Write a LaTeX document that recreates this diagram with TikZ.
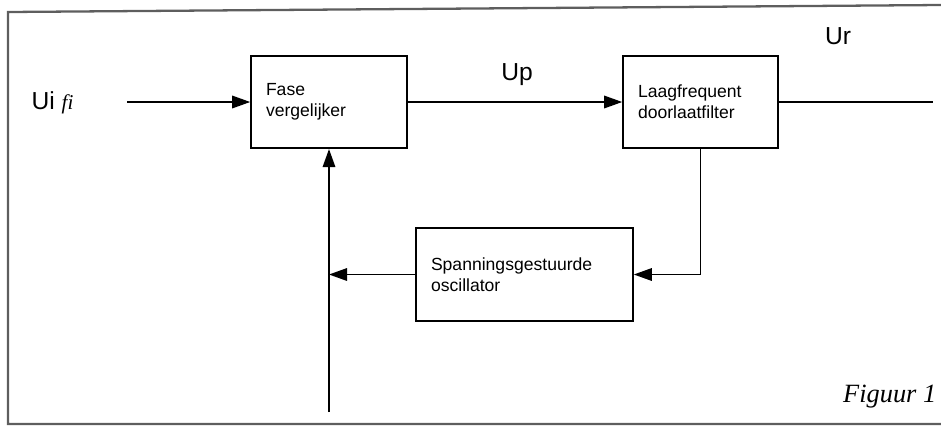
\documentclass[tikz,border=0pt]{standalone}
\usepackage{fontspec}
\setmainfont{Liberation Sans}
\newfontfamily\seriffont{Liberation Serif}
\usetikzlibrary{positioning,arrows.meta}
\definecolor{FrameGray}{HTML}{5E5E5E}

\begin{document}
\begin{tikzpicture}[line width=0.9pt,
  every node/.style={font=\fontsize{10}{12}\selectfont,align=left},
  blok/.style={draw,inner xsep=0.3cm,minimum height=1.85cm},
  pijl/.style={-{Triangle[length=3.6mm,width=2.5mm]}},
  groot/.style={font=\fontsize{14}{16}\selectfont}]
  \useasboundingbox (0,0) rectangle (18.82,-8.54);
  \draw[FrameGray,line width=1.3pt] (18.82,-0.1) -- (0.16,-0.24) -- (0.16,-8.48) -- (18.82,-8.48);
  \node[blok,text width=2.52cm] (fase) at (6.58,-2.04) {Fase\\vergelijker};
  \node[blok,text width=2.5cm] (filter) at (14.01,-2.04) {Laagfrequent\\doorlaatfilter};
  \node[blok,text width=3.74cm] (vco) at (10.49,-5.49) {Spanningsgestuurde\\oscillator};
  \coordinate (in) at (2.54,-2.04);
  \coordinate (uit) at (18.66,-2.04);
  \coordinate (voet) at (6.58,-8.24);
  \node[groot,anchor=west] (ui) at (0.5,-2.06) {Ui {\seriffont\itshape\fontsize{12}{12}\selectfont fi}};
  \node[groot] (up) at (10.34,-1.5) {Up};
  \node[groot] (ur) at (16.76,-0.72) {Ur};
  \node[anchor=base east,inner xsep=0pt,font=\seriffont\itshape\fontsize{15}{16}\selectfont] (fig) at (18.74,-8.04) {Figuur 1};
  \draw[pijl] (in) -- (fase);
  \draw[pijl] (fase) -- (filter);
  \draw (filter) -- (uit);
  \draw[pijl] (filter.south) |- (vco.east);
  \draw[pijl] (vco.west) -- (vco.west -| voet);
  \draw[pijl] (voet) -- (fase.south);
\end{tikzpicture}
\end{document}
